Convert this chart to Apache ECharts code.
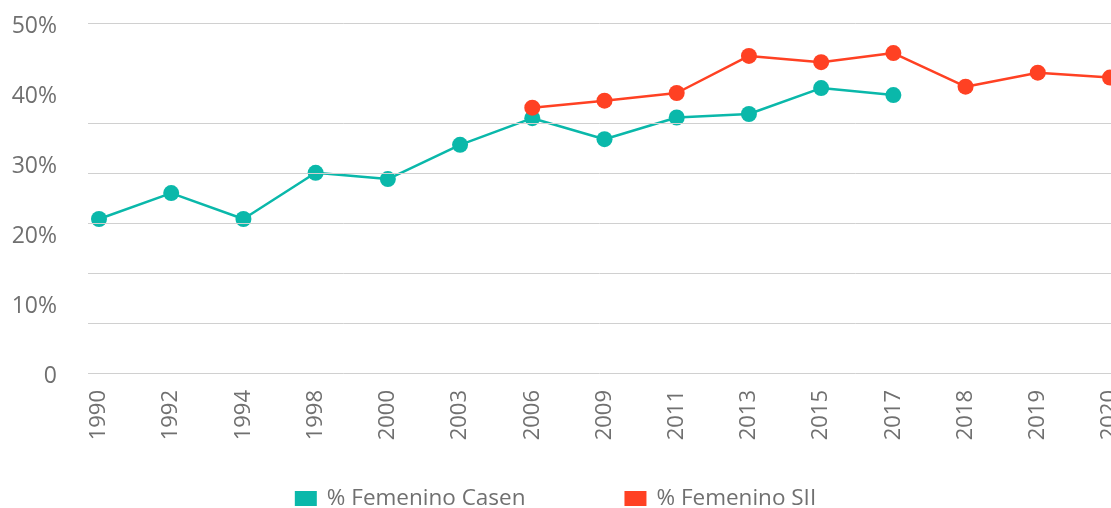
<!DOCTYPE html>
<html>
<head>
<meta charset="utf-8">
<script src="https://cdn.jsdelivr.net/npm/echarts@6/dist/echarts.min.js"></script>
<style>
html,body{margin:0;padding:0;background:#fff;overflow:hidden;}
#chart{width:1111px;height:508px;}
</style>
</head>
<body>
<div id="chart"></div>
<script>
const categories = ['1990','1992','1994','1998','2000','2003','2006','2009','2011','2013','2015','2017','2018','2019','2020'];
const casen = [0.220,0.257,0.220,0.286,0.277,0.326,0.364,0.334,0.365,0.370,0.407,0.397,null,null,null];
const sii = [null,null,null,null,null,null,0.379,0.389,0.400,0.453,0.444,0.457,0.409,0.429,0.422];
const seriesNames = ['% Femenino Casen','% Femenino SII'];
const yTicks = [0,0.1,0.2,0.3,0.4,0.5];
const gridlineSteps = [0,1,2,3,4,5,7];

const FONT = '"Open Sans", "Liberation Sans", sans-serif';
const TXT = '#707070';
const GRIDC = '#d0d0d0';
const TEAL = '#0ab8aa';
const RED = '#ff4123';

const yMin = yTicks[0], yMax = yTicks[yTicks.length-1];

const chart = echarts.init(document.getElementById('chart'), null, {renderer:'canvas'});
chart.setOption({
  animation:false,
  backgroundColor:'#fff',
  textStyle:{fontFamily:FONT},
  grid:[
    {left:99,right:1,top:23,bottom:135,containLabel:false,outerBoundsMode:'none'},
    {left:88,right:0,top:23,bottom:135,containLabel:false,outerBoundsMode:'none'},
    {left:99,right:1,top:26,bottom:132,containLabel:false,outerBoundsMode:'none'}
  ],
  legend:{
    data:seriesNames,
    top:482,
    left:'center',
    itemWidth:22,
    itemHeight:15,
    itemGap:99,
    icon:'rect',
    textStyle:{fontFamily:FONT,fontSize:22.5,color:TXT,padding:[0,0,0,5]}
  },
  xAxis:[
    {type:'category',gridIndex:0,data:categories,boundaryGap:false,
     axisLine:{show:false},axisTick:{show:false},splitLine:{show:false},
     axisLabel:{rotate:90,margin:17,fontSize:22,color:TXT,fontFamily:FONT,interval:0}},
    {type:'value',gridIndex:1,min:0,max:1,show:false},
    {type:'value',gridIndex:2,min:0,max:1,show:false}
  ],
  yAxis:[
    {type:'value',gridIndex:0,min:yMin,max:yMax,interval:0.1,
     axisLine:{show:false},axisTick:{show:false},splitLine:{show:false},axisLabel:{show:false}},
    {type:'value',gridIndex:1,min:0,max:7,show:false},
    {type:'value',gridIndex:2,min:yMin,max:yMax,interval:0.1,
     axisLine:{show:false},axisTick:{show:false},splitLine:{show:false},
     axisLabel:{margin:42,fontSize:23,color:TXT,fontFamily:FONT,
       formatter:function(v){ return v===0 ? '0' : Math.round(v*100)+'%'; }}}
  ],
  series:[
    {name:'grid',type:'line',xAxisIndex:1,yAxisIndex:1,data:[],silent:true,
     markLine:{silent:true,symbol:'none',animation:false,label:{show:false},
       lineStyle:{color:GRIDC,width:1,type:'solid'},
       data:gridlineSteps.map(function(s){return {yAxis:s};})}},
    {name:seriesNames[0],type:'line',xAxisIndex:0,yAxisIndex:0,data:casen,
     symbol:'circle',symbolSize:16,showAllSymbol:true,
     itemStyle:{color:TEAL},lineStyle:{color:TEAL,width:2.5}},
    {name:seriesNames[1],type:'line',xAxisIndex:0,yAxisIndex:0,data:sii,
     symbol:'circle',symbolSize:16,showAllSymbol:true,
     itemStyle:{color:RED},lineStyle:{color:RED,width:2.5}}
  ]
});
</script>
</body>
</html>
